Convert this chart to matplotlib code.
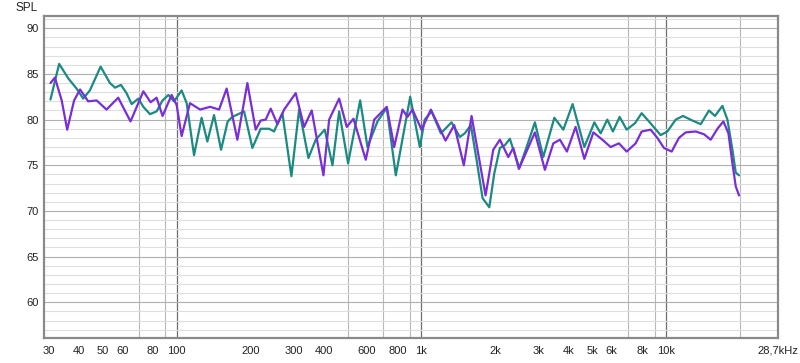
import numpy as np
import matplotlib
matplotlib.use('Agg')
import matplotlib.pyplot as plt
import matplotlib.ticker as mticker

#%% Data (frequency in Hz, SPL in dB)
teal_freq = [30.5, 33.1, 36.1, 39.0, 41.5, 44.2, 48.9, 53.4, 56.0, 59.2, 62.4, 65.5,
             69.7, 73.1, 77.8, 82.8, 87.6, 92.5, 97.6, 104.8, 109.9, 117.8, 126.5,
             133.5, 142.2, 151.9, 161.7, 169.0, 188.7, 204, 220.6, 238.8, 250, 270.6,
             294.5, 316.7, 345.7, 370.3, 403, 433.4, 461.5, 502, 562.5, 602.6, 662,
             722.5, 786.6, 820, 900.8, 986, 1033, 1101, 1202, 1329, 1437, 1506, 1594,
             1682, 1780, 1896, 1987, 2095, 2195, 2301, 2515, 2694, 2913, 3152, 3497,
             3806, 4154, 4638, 5097, 5408, 5758, 6070, 6466, 6907, 7467, 7955, 8520,
             9510, 10130, 10960, 11740, 12820, 13870, 14990, 15860, 17010, 17830,
             18690, 19280, 19890]
teal_spl = [82.2, 86.1, 84.5, 83.4, 82.3, 83.2, 85.8, 84.0, 83.5, 83.8, 82.9, 81.7,
            82.3, 81.4, 80.6, 80.9, 82.1, 82.7, 82.0, 83.2, 81.8, 76.1, 80.2,
            77.6, 80.5, 76.7, 79.8, 80.3, 80.9, 76.9, 79.0, 79.0, 78.7, 80.7,
            73.8, 81.1, 75.8, 77.8, 78.9, 75.0, 80.9, 75.2, 82.1, 77.0, 79.8,
            81.3, 73.9, 76.5, 82.5, 77.0, 80.0, 80.9, 78.5, 79.7, 78.1, 78.5, 79.4,
            75.6, 71.4, 70.4, 74.1, 76.9, 77.2, 77.9, 74.7, 77.0, 79.7, 75.9, 80.2,
            78.9, 81.7, 77.0, 79.7, 78.5, 80.0, 78.7, 80.3, 78.9, 79.6, 80.7, 79.8,
            78.3, 78.7, 80.0, 80.4, 79.9, 79.5, 81.0, 80.4, 81.5, 80.0,
            76.7, 74.2, 73.9]

purple_freq = [30.5, 31.8, 33.9, 35.7, 38.1, 40.3, 43.5, 47.1, 51.7, 57.7, 64.8, 73.1,
               78.3, 82.8, 87.6, 95.4, 100, 104.8, 113.4, 124.7, 137.0, 149.1, 160.1,
               177.1, 194.6, 210.4, 220.6, 231.2, 242.4, 258.2, 275, 306.7, 331.9,
               356.5, 398.1, 420.1, 461.5, 495.8, 528.2, 592.9, 642, 722.5, 774.9,
               837.8, 878.2, 920.5, 1002, 1094, 1256, 1363, 1492, 1605, 1831, 1968,
               2095, 2267, 2376, 2505, 2913, 3200, 3464, 3686, 3937, 4272, 4638, 5049,
               5495, 5939, 6424, 6907, 7517, 7955, 8657, 9220, 9812, 10550, 11300,
               12040, 13230, 14300, 15230, 16230, 17170, 18000, 18690, 19280, 19890]
purple_spl = [84.0, 84.6, 82.1, 78.9, 82.1, 83.3, 82.0, 82.1, 81.1, 82.4, 79.8, 83.1,
              81.9, 82.4, 80.4, 82.7, 81.6, 78.2, 81.8, 81.1, 81.4, 81.1, 83.4,
              77.8, 84.0, 78.9, 79.9, 80.0, 81.2, 79.5, 81.1, 82.9, 79.2,
              81.0, 73.9, 80.0, 82.3, 79.2, 80.1, 75.6, 80.0, 81.4, 77.0,
              81.1, 80.3, 81.1, 78.9, 81.1, 77.7, 79.4, 75.0, 80.4, 71.7, 76.7,
              77.8, 75.9, 76.9, 74.6, 78.6, 74.5, 77.4, 77.8, 76.5, 79.2, 75.7, 78.6,
              77.8, 77.0, 77.4, 76.5, 77.4, 78.7, 78.9, 78.0, 76.9, 76.5, 78.0,
              78.6, 78.7, 78.4, 77.8, 79.0, 79.8, 78.5, 75.2, 72.7, 71.7]

# Axis labels
x_tick_freq = [30, 40, 50, 60, 80, 100, 200, 300, 400, 600, 800, 1000, 2000, 3000,
               4000, 5000, 6000, 8000, 10000, 28700]
x_tick_text = ['30', '40', '50', '60', '80', '100', '200', '300', '400', '600', '800',
               '1k', '2k', '3k', '4k', '5k', '6k', '8k', '10k', '28,7kHz']
y_ticks = [60, 65, 70, 75, 80, 85, 90]

#%% Figure
plt.rcParams['font.family'] = ['Liberation Sans', 'DejaVu Sans']
fig = plt.figure(figsize=(8, 3.63), dpi=100)
ax = fig.add_axes([0.055, 0.068, 0.9175, 0.888])

# Grid: light lines every dB, darker every 5 dB
ax.set_xscale('log')
ax.set_xlim(28.7, 28700)
ax.set_ylim(56.05, 91.35)
ax.yaxis.set_major_locator(mticker.FixedLocator(y_ticks))
ax.yaxis.set_minor_locator(mticker.MultipleLocator(1))
ax.grid(which='minor', axis='y', color='#dedede', linewidth=0.8)
ax.grid(which='major', axis='y', color='#b0b0b0', linewidth=0.8)

# Vertical grid lines at 1..9 x decade, decades darker
grid_freq = [m * 10 ** e for e in range(1, 5) for m in range(1, 10)]
grid_freq = [g for g in grid_freq if 28.7 < g < 28700]
ax.xaxis.set_minor_locator(mticker.FixedLocator(grid_freq))
ax.xaxis.set_minor_formatter(mticker.NullFormatter())
ax.grid(which='minor', axis='x', color='#b8b8b8', linewidth=0.8)
for dec in [100, 1000, 10000]:
    ax.axvline(dec, color='#6e6e6e', linewidth=0.9, zorder=1)

ax.set_xticks(x_tick_freq, x_tick_text)
ax.tick_params(which='both', length=0, labelsize=8, colors='#222222')
ax.tick_params(axis='x', pad=11)
ax.tick_params(axis='y', pad=4)
# same baseline for every x label (the comma label sits lower otherwise)
plt.setp(ax.get_xticklabels(), va='baseline')

# Plot traces
ax.plot(teal_freq, teal_spl, color='#1b8a82', linewidth=1.6, zorder=3,
        solid_joinstyle='round', solid_capstyle='round')
ax.plot(purple_freq, purple_spl, color='#7a2ed6', linewidth=1.6, zorder=4,
        solid_joinstyle='round', solid_capstyle='round')

# Frame
for side in ['left', 'bottom', 'top', 'right']:
    ax.spines[side].set_color('#8a8a8a')
    ax.spines[side].set_linewidth(1.6)

fig.text(16 / 800, 1 - 8 / 363, 'SPL', fontsize=8.5, color='#222222',
         ha='left', va='center')

# Save picture
plt.savefig('out.png', dpi=100)
